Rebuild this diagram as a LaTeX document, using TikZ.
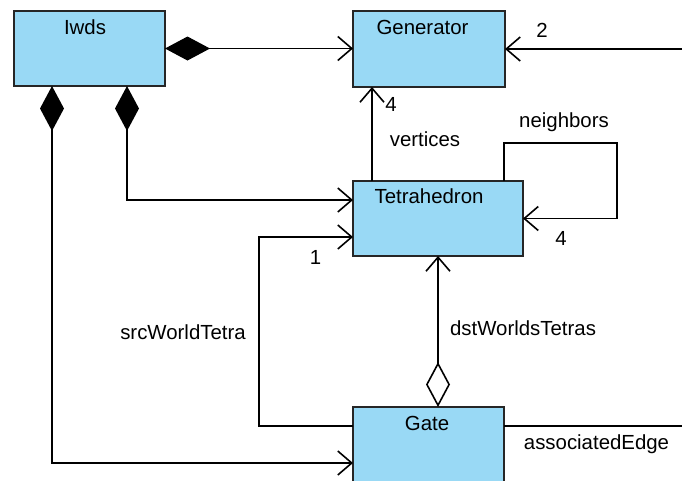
\documentclass[tikz,border=0pt]{standalone}
\usepackage{fontspec}
\setmainfont{Liberation Sans}
\usetikzlibrary{arrows.meta,calc}
\definecolor{boxblue}{RGB}{153,217,245}
\begin{document}
\begin{tikzpicture}[x=1pt,y=-1pt,
  box/.style={draw=black!85, line width=2pt, fill=boxblue, rectangle, inner sep=0pt, outer sep=0pt},
  lbl/.style={font=\fontsize{20.4}{24}\selectfont, anchor=base, inner sep=0pt},
  conn/.style={line width=1.6pt, line join=miter},
  barb/.tip={Straight Barb[length=14pt,width=24pt,line width=1.6pt]},
  fdia/.tip={Diamond[length=45pt,width=24pt]},
  odia/.tip={Diamond[open,length=45pt,width=24pt,line width=1.6pt]}
]
\useasboundingbox (0,0) rectangle (682,480);
\clip (0,0) rectangle (682,480);

% boxes
\node[box, minimum width=151pt, minimum height=75pt] (iwds) at (89.5,48.5) {};
\node[box, minimum width=152pt, minimum height=76pt] (gen) at (429,49) {};
\node[box, minimum width=170pt, minimum height=75pt] (tet) at (438,218.5) {};
\node[box, minimum width=151pt, minimum height=100pt] (gate) at (428.5,457) {};

% box titles
\node[lbl] (iwdsL) at (85,34.3) {Iwds};
\node[lbl] (genL) at (422.5,34.3) {Generator};
\node[lbl] (tetL) at (429,203.3) {Tetrahedron};
\node[lbl] (gateL) at (427,430) {Gate};

% connectors
\draw[conn, fdia-barb] (iwds.east) -- (gen.west |- iwds.east);

\coordinate (gR) at (684,49);
\draw[conn, -barb] (gR) -- (gen.east);

\draw[conn, -barb] ($(tet.north west)+(19,0)$) -- ($(gen.south west)+(19,0)$);

\draw[conn, -barb] ($(tet.north west)+(151,0)$) -- (504,143) -- (617,143) -- (617,218.5) -- (tet.east);

\draw[conn, fdia-barb] ($(iwds.south west)+(113,0)$) |- ($(tet.north west)+(0,19)$);
\draw[conn, fdia-barb] ($(iwds.south west)+(38,0)$) |- ($(gate.north west)+(0,56)$);

\draw[conn, -barb] ($(gate.north west)+(0,18.7)$) -- ++(-94,0) |- ($(tet.north west)+(0,56)$);

\draw[conn, odia-barb] (gate.north -| tet.south) -- (tet.south);

\coordinate (aE) at (684,425.7);
\draw[conn] ($(gate.north east)+(0,18.7)$) -- (aE);

% connector labels
\node[lbl] (l2) at (542,37.3) {2};
\node[lbl] (l4a) at (391,111.7) {4};
\node[lbl] (lvert) at (425,146.7) {vertices};
\node[lbl] (lneigh) at (564,127.3) {neighbors};
\node[lbl] (l4b) at (561,245) {4};
\node[lbl] (l1) at (315.5,264) {1};
\node[lbl] (lsrc) at (183,339) {srcWorldTetra};
\node[lbl] (ldst) at (523,335.7) {dstWorldsTetras};
\node[lbl] (lassoc) at (596.5,449) {associatedEdge};
\end{tikzpicture}
\end{document}
